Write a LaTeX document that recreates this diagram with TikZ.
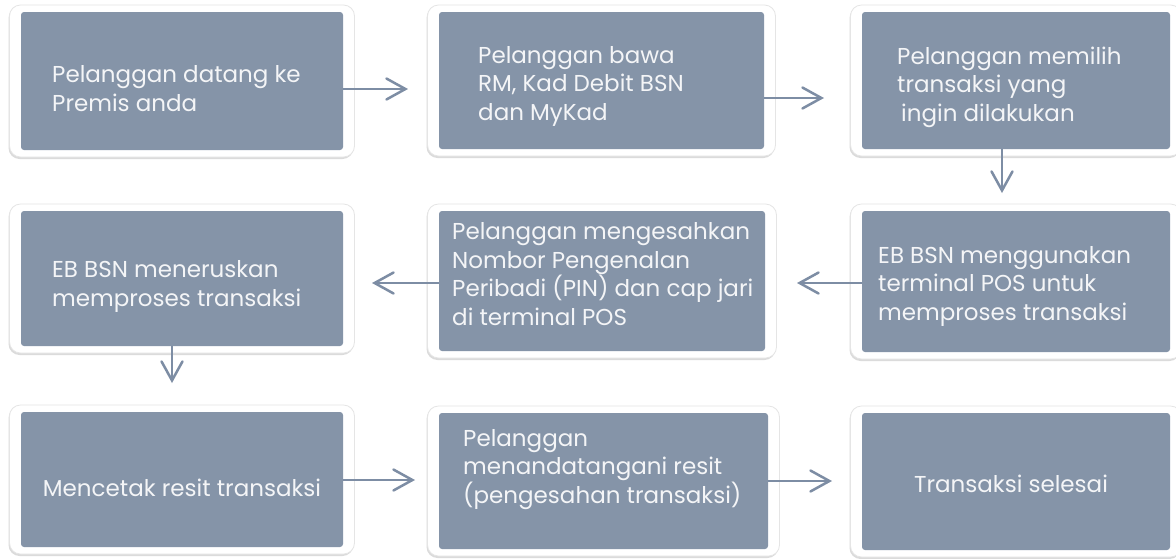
\documentclass[tikz,border=0pt]{standalone}
\usepackage{fontspec}
\setmainfont{Poppins}
\usetikzlibrary{arrows.meta,shadows,fit}
\definecolor{boxfill}{HTML}{8594A8}
\definecolor{arrowc}{HTML}{7D8DA4}
\definecolor{txt}{HTML}{F4F5F7}
\tikzset{
  frame/.style={fill=white, draw=black!10, line width=0.8pt, rounded corners=11pt,
    drop shadow={shadow xshift=-1pt, shadow yshift=-2pt, opacity=0.14, fill=black}},
  innerbox/.style={fill=boxfill, draw=none, rounded corners=3pt, inner sep=0pt},
  lbl/.style={text=txt, inner sep=0pt, align=left, anchor=base west,
    font=\fontsize{23}{28.5}\selectfont},
  clbl/.style={lbl, align=center, anchor=base},
  arr/.style={draw=arrowc, line width=2.7pt,
    -{Straight Barb[length=19pt,width=21pt,line width=2.5pt,line cap=round]}}
}
\newcommand\flowbox[5]{%
  \path[frame] (#2-11.5,#3-7) rectangle (#4+11.5,#5+7);
  \node[innerbox, fit={(#2,#3) (#4,#5)}] (#1) {};
}
\begin{document}
\begin{tikzpicture}[x=1pt,y=-1pt]
\useasboundingbox (0,0) rectangle (1176,558);
\fill[white] (0,0) rectangle (1176,558);
\flowbox{b1}{21}{12}{343}{150}
\flowbox{b2}{439}{12}{764}{149}
\flowbox{b3}{862}{12}{1170}{149}
\flowbox{b4}{21}{211}{343}{346}
\flowbox{b5}{439}{211}{765}{351}
\flowbox{b6}{862}{211}{1170}{352}
\flowbox{b7}{21}{412}{343}{547}
\flowbox{b8}{439}{413}{768}{549}
\flowbox{b9}{862}{413}{1170}{550}

% anchors are the baseline of the last line
\node[lbl] (t1) at (52,111) {Pelanggan datang ke\\Premis anda};
\node[lbl] (t2) at (478,120) {Pelanggan bawa\\RM, Kad Debit BSN\\dan MyKad};
\node[lbl] (t3) at (897,121) {Pelanggan memilih\\transaksi yang\\\hspace*{4pt}ingin dilakukan};
\node[lbl] (t4) at (52,306) {EB BSN meneruskan\\memproses transaksi};
\node[lbl] (t5) at (452,325) {Pelanggan mengesahkan\\Nombor Pengenalan\\Peribadi (PIN) dan cap jari\\di terminal POS};
\node[lbl] (t6) at (878,320) {EB BSN menggunakan\\terminal POS untuk\\memproses transaksi};
\node[clbl] (t7) at (182,496) {Mencetak resit transaksi};
\node[lbl] (t8) at (463,503) {Pelanggan\\menandatangani resit\\(pengesahan transaksi)};
\node[clbl] (t9) at (1011,492) {Transaksi selesai};

\coordinate (a1) at (b1.east |- 0,89);
\coordinate (a1e) at (408,89);
\draw[arr] (a1) -- (a1e);
\coordinate (a2) at (b2.east |- 0,98);
\coordinate (a2e) at (824,98);
\draw[arr] (a2) -- (a2e);
\coordinate (a3) at (1002,149);
\coordinate (a3e) at (1002,193);
\draw[arr] (a3) -- (a3e);
\coordinate (a6) at (b6.west |- 0,283);
\coordinate (a6e) at (797,283);
\draw[arr] (a6) -- (a6e);
\coordinate (a5) at (b5.west |- 0,283);
\coordinate (a5e) at (372,283);
\draw[arr] (a5) -- (a5e);
\coordinate (a4) at (172,346);
\coordinate (a4e) at (172,383);
\draw[arr] (a4) -- (a4e);
\coordinate (a7) at (b7.east |- 0,480);
\coordinate (a7e) at (415,480);
\draw[arr] (a7) -- (a7e);
\coordinate (a8) at (b8.east |- 0,481);
\coordinate (a8e) at (832,481);
\draw[arr] (a8) -- (a8e);
\end{tikzpicture}
\end{document}
